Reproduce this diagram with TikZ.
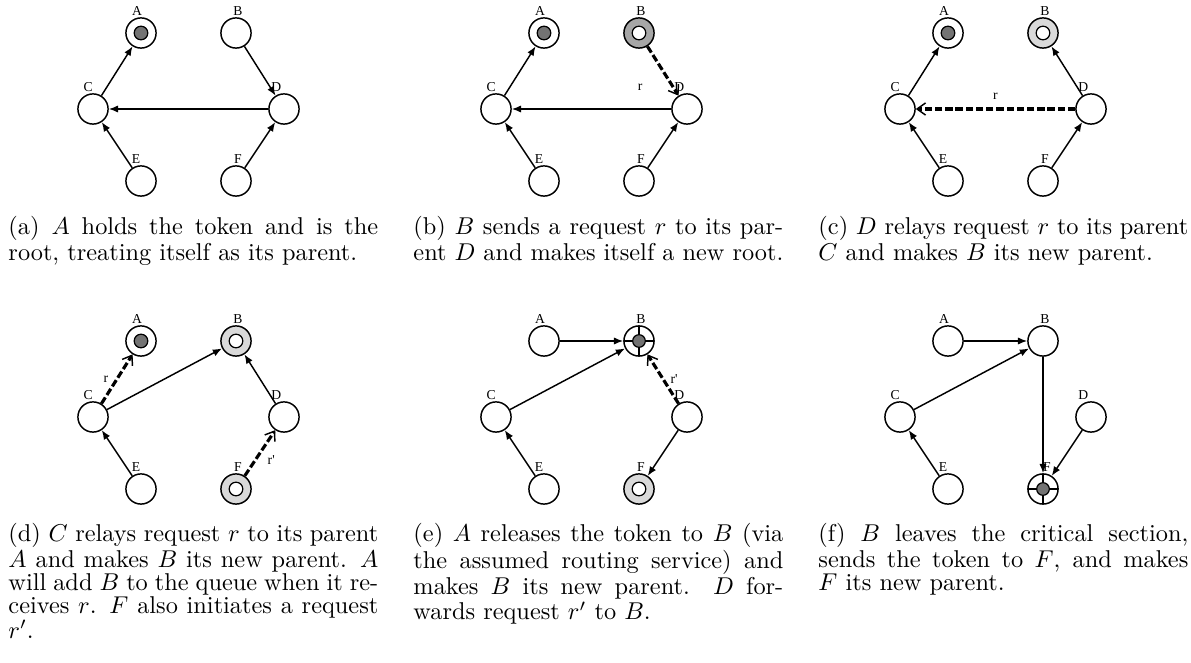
\documentclass[tikz,border=0pt]{standalone}
\usepackage{fontspec}
\newfontfamily\figfont{Liberation Serif}
\usetikzlibrary{arrows.meta}
\colorlet{tokgray}{black!55}

\tikzset{
  lbl/.style={font=\figfont\fontsize{5.6}{6}\selectfont, inner sep=0pt},
  site/.style 2 args={circle, draw, fill=white, line width=0.6pt, minimum size=12.4pt, inner sep=0pt,
    label={[lbl, label distance=0.4pt, xshift=#2]above:#1}},
  holder/.style={path picture={\filldraw[fill=tokgray, line width=0.5pt] (path picture bounding box.center) circle (2.8pt);}},
  asker/.style={fill=#1, path picture={\filldraw[fill=white, line width=0.5pt] (path picture bounding box.center) circle (2.8pt);}},
  incs/.style={path picture={
    \draw[line width=0.5pt] (path picture bounding box.north) -- (path picture bounding box.south)
      (path picture bounding box.west) -- (path picture bounding box.east);
    \filldraw[fill=tokgray, line width=0.5pt] (path picture bounding box.center) circle (2.6pt);}},
  toparent/.style={-{Latex[length=3.8pt,width=3pt]}, line width=0.6pt},
  req/.style={-{Straight Barb[length=3.5pt,width=5pt,line width=0.6pt]}, line width=1.3pt, dash pattern=on 3pt off 1.2pt},
  caption/.style={anchor=base west, inner sep=0pt, font=\fontsize{10}{9.4}\selectfont}
}

\begin{document}
\begin{tikzpicture}[x=0.411pt, y=-0.411pt]
\useasboundingbox (0,0) rectangle (1191,663);

% (a) A holds the token
\begin{scope}[shift={(141,33)}]
  \node[site={A}{-1.6pt}, holder] (a-A) at (0,0) {};
  \node[site={B}{0.8pt}] (a-B) at (95,0) {};
  \node[site={C}{-2pt}] (a-C) at (-48,76) {};
  \node[site={D}{-3.2pt}] (a-D) at (143,76) {};
  \node[site={E}{-2pt}] (a-E) at (0,148) {};
  \node[site={F}{0.8pt}] (a-F) at (95,148) {};
  \draw[toparent] (a-C) -- (a-A);
  \draw[toparent] (a-B) -- (a-D);
  \draw[toparent] (a-D) -- (a-C);
  \draw[toparent] (a-E) -- (a-C);
  \draw[toparent] (a-F) -- (a-D);
\end{scope}

% (b) B sends r to D
\begin{scope}[shift={(544,33)}]
  \node[site={A}{-1.6pt}, holder] (b-A) at (0,0) {};
  \node[site={B}{0.8pt}, asker=black!35] (b-B) at (95,0) {};
  \node[site={C}{-2pt}] (b-C) at (-48,76) {};
  \node[site={D}{-3.2pt}] (b-D) at (143,76) {};
  \node[site={E}{-2pt}] (b-E) at (0,148) {};
  \node[site={F}{0.8pt}] (b-F) at (95,148) {};
  \draw[toparent] (b-C) -- (b-A);
  \draw[req] (b-B) -- node[lbl, pos=0.84, left=12.2pt] (b-r) {r} (b-D);
  \draw[toparent] (b-D) -- (b-C);
  \draw[toparent] (b-E) -- (b-C);
  \draw[toparent] (b-F) -- (b-D);
\end{scope}

% (c) D relays r to C
\begin{scope}[shift={(948,33)}]
  \node[site={A}{-1.6pt}, holder] (c-A) at (0,0) {};
  \node[site={B}{0.8pt}, asker=black!15] (c-B) at (95,0) {};
  \node[site={C}{-2pt}] (c-C) at (-48,76) {};
  \node[site={D}{-3.2pt}] (c-D) at (143,76) {};
  \node[site={E}{-2pt}] (c-E) at (0,148) {};
  \node[site={F}{0.8pt}] (c-F) at (95,148) {};
  \draw[toparent] (c-C) -- (c-A);
  \draw[toparent] (c-D) -- (c-B);
  \draw[req] (c-D) -- node[lbl, midway, above=3.4pt] (c-r) {r} (c-C);
  \draw[toparent] (c-E) -- (c-C);
  \draw[toparent] (c-F) -- (c-D);
\end{scope}

% (d) C relays r to A, F asks
\begin{scope}[shift={(141,341)}]
  \node[site={A}{-1.6pt}, holder] (d-A) at (0,0) {};
  \node[site={B}{0.8pt}, asker=black!15] (d-B) at (95,0) {};
  \node[site={C}{-2pt}] (d-C) at (-48,76) {};
  \node[site={D}{-3.2pt}] (d-D) at (143,76) {};
  \node[site={E}{-2pt}] (d-E) at (0,148) {};
  \node[site={F}{0.8pt}, asker=black!15] (d-F) at (95,148) {};
  \draw[req] (d-C) -- node[lbl, midway, left=3pt] (d-r) {r} (d-A);
  \draw[toparent] (d-C) -- (d-B);
  \draw[toparent] (d-D) -- (d-B);
  \draw[toparent] (d-E) -- (d-C);
  \draw[req] (d-F) -- node[lbl, pos=0.35, right=4.4pt] (d-r2) {r'} (d-D);
\end{scope}

% (e) token goes to B
\begin{scope}[shift={(544,341)}]
  \node[site={A}{-1.6pt}] (e-A) at (0,0) {};
  \node[site={B}{0.8pt}, incs] (e-B) at (95,0) {};
  \node[site={C}{-2pt}] (e-C) at (-48,76) {};
  \node[site={D}{-3.2pt}] (e-D) at (143,76) {};
  \node[site={E}{-2pt}] (e-E) at (0,148) {};
  \node[site={F}{0.8pt}, asker=black!15] (e-F) at (95,148) {};
  \draw[toparent] (e-A) -- (e-B);
  \draw[toparent] (e-C) -- (e-B);
  \draw[req] (e-D) -- node[lbl, midway, right=2.5pt] (e-r2) {r'} (e-B);
  \draw[toparent] (e-D) -- (e-F);
  \draw[toparent] (e-E) -- (e-C);
\end{scope}

% (f) token goes to F
\begin{scope}[shift={(948,341)}]
  \node[site={A}{-1.6pt}] (f-A) at (0,0) {};
  \node[site={B}{0.8pt}] (f-B) at (95,0) {};
  \node[site={C}{-2pt}] (f-C) at (-48,76) {};
  \node[site={D}{-3.2pt}] (f-D) at (143,76) {};
  \node[site={E}{-2pt}] (f-E) at (0,148) {};
  \node[site={F}{1.6pt}, incs] (f-F) at (95,148) {};
  \draw[toparent] (f-A) -- (f-B);
  \draw[toparent] (f-C) -- (f-B);
  \draw[toparent] (f-B) -- (f-F);
  \draw[toparent] (f-D) -- (f-F);
  \draw[toparent] (f-E) -- (f-C);
\end{scope}

% captions
\node[caption] (cap-a) at (8,235) {\parbox[t]{152pt}{(a) $A$ holds the token and is the root, treating itself as its parent.}};
\node[caption] (cap-b) at (413,235) {\parbox[t]{152pt}{(b) $B$ sends a request $r$ to its par-\linebreak ent $D$ and makes itself a new root.}};
\node[caption] (cap-c) at (818,235) {\parbox[t]{152pt}{(c) $D$ relays request $r$ to its parent $C$ and makes $B$ its new parent.}};
\node[caption] (cap-d) at (8,542) {\parbox[t]{152pt}{(d) $C$ relays request $r$ to its parent $A$ and makes $B$ its new parent. $A$ will add $B$ to the queue when it receives $r$. $F$ also initiates a request $r'$.}};
\node[caption] (cap-e) at (413,542) {\parbox[t]{152pt}{(e) $A$ releases the token to $B$ (via the assumed routing service) and makes $B$ its new parent. $D$ forwards request $r'$ to $B$.}};
\node[caption] (cap-f) at (818,542) {\parbox[t]{152pt}{(f) $B$ leaves the critical section, sends the token to $F$, and makes $F$ its new parent.}};
\end{tikzpicture}
\end{document}
